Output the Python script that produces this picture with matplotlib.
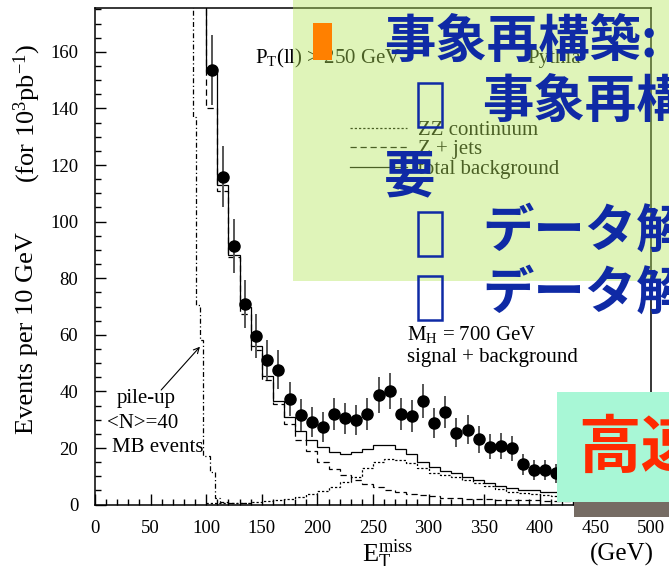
import numpy as np
import matplotlib
matplotlib.use("Agg")
import matplotlib.pyplot as plt
from matplotlib.patches import Rectangle

plt.rcParams['font.family'] = ['Liberation Serif', 'DejaVu Serif']
plt.rcParams['mathtext.fontset'] = 'custom'
plt.rcParams['mathtext.rm'] = 'Liberation Serif'
plt.rcParams['mathtext.it'] = 'Liberation Serif:italic'
plt.rcParams['mathtext.bf'] = 'Liberation Serif:bold'

# ---- E_T^miss spectra (events per 10 GeV bin, 10^3 pb^-1) ----
bkg_edges = np.arange(90, 440, 10)
total_bkg = [260, 153, 113, 88.3, 70, 56, 45.4, 36.5, 31, 26,
             23, 20.2, 18.5, 17.9, 18.5, 19.6, 21.0, 21.0, 19.6, 17.8,
             15.2, 13.4, 12.0, 11.1, 9.9, 8.7, 7.8, 6.6, 5.8, 5.2,
             5.0, 4.6, 4.3, 4.0]
z_jets = [250, 140, 110.8, 87.6, 67.5, 54.8, 43.9, 35.4, 28.6, 23.0,
          19.1, 15.2, 12.5, 10.5, 8.7, 7.3, 6.3, 5.2, 4.6, 3.9,
          3.3, 3.0, 2.5, 2.3, 2.1, 2.0, 1.9, 1.8, 1.7, 1.6,
          1.5, 1.4, 1.3, 1.2]
zz_edges = np.arange(100, 440, 10)
zz_continuum = [0.5, 0.5, 0.6, 0.7, 0.9, 1.2, 1.5, 2.0, 2.6, 3.6,
                4.9, 6.3, 8.1, 9.9, 12.8, 15.2, 16.0, 15.8, 14.6, 12.8,
                11.1, 10.5, 9.9, 8.7, 7.5, 6.6, 5.4, 4.6, 4.0, 3.8,
                3.4, 3.1, 2.8]
pileup_edges = [0, 88, 91, 94.5, 97.3, 103.6, 108, 112, 120, 140]
pileup = [5000, 137, 70.5, 58, 17, 11.6, 2.2, 1.0, 0.4]

# signal + background pseudo-data, M_H = 700 GeV
data_x = np.arange(105, 420, 10)
data_y = [153.6, 115.8, 91.3, 70.8, 59.6, 51.1, 47.6, 37.3, 31.6, 29.2,
          27.4, 32.0, 30.5, 29.9, 31.9, 38.7, 40.2, 31.9, 31.3, 36.7,
          28.9, 32.8, 25.4, 26.4, 23.1, 20.5, 20.8, 19.9, 14.2, 12.2,
          12.2, 11.1]

W, H = 669, 566
fig = plt.figure(figsize=(W / 100, H / 100), dpi=100)
fig.patch.set_facecolor('white')


def fx(px):
    return px / W


def fy(py):
    return 1 - py / H


ax = fig.add_axes([fx(95), fy(504.6), (651 - 95) / W, (504.6 - 8) / H])
ax.set_xlim(0, 500)
ax.set_ylim(0, 175.5)

lw = 0.9
h_zz = ax.stairs(zz_continuum, zz_edges, baseline=None, color='black',
                 linewidth=lw, linestyle=(0, (1.8, 1.6)))
h_zj = ax.stairs(z_jets, bkg_edges, baseline=None, color='black',
                 linewidth=lw, linestyle=(0, (5, 3)))
h_tot = ax.stairs(total_bkg, bkg_edges, baseline=None, color='black',
                  linewidth=lw)
ax.stairs(pileup, pileup_edges, baseline=None, color='black',
          linewidth=lw, linestyle=(0, (4, 2, 1, 2)))

ax.errorbar(data_x, data_y, yerr=np.sqrt(data_y), fmt='none',
            ecolor='#555555', elinewidth=1.4, zorder=3)
ax.plot(data_x, data_y, 'o', color='black', markersize=8, zorder=4)

ax.set_xticks(np.arange(0, 501, 50))
ax.set_xticks(np.arange(0, 501, 10), minor=True)
ax.set_yticks(np.arange(0, 161, 20))
ax.set_yticks(np.arange(0, 176, 5), minor=True)
ax.tick_params(which='both', direction='in', width=1.0, labelsize=13.5)
ax.tick_params(which='major', length=8)
ax.tick_params(which='minor', length=4.3)
ax.tick_params(axis='y', pad=12)
ax.tick_params(axis='x', pad=11)
for sp in ax.spines.values():
    sp.set_linewidth(1.1)

ax.legend([h_zz, h_zj, h_tot], ['ZZ continuum', 'Z + jets', 'total background'],
          loc='upper left', bbox_to_anchor=(0.4586, 0.774), frameon=False,
          fontsize=15, handlelength=2.74, handletextpad=0.53,
          labelspacing=0.0, borderpad=0, borderaxespad=0)

ax.text(143.9, 156, r'P$_\mathrm{T}$(ll) > 250 GeV', fontsize=15, va='baseline')
ax.text(388.5, 156, 'Pythia', fontsize=15, va='baseline')
ax.text(280.6, 58.2, r'M$_\mathrm{H}$ = 700 GeV', fontsize=15, va='baseline')
ax.text(280.6, 50.5, 'signal + background', fontsize=15, va='baseline')
ax.text(19.8, 35.8, 'pile-up', fontsize=15, va='baseline')
ax.text(10.8, 27.0, '<N>=40', fontsize=15, va='baseline')
ax.text(15.3, 18.7, 'MB events', fontsize=15, va='baseline')
ax.annotate('', xy=(94.4, 55.8), xytext=(59.5, 40.5),
            arrowprops=dict(arrowstyle='->', lw=0.8, color='black',
                            shrinkA=0, shrinkB=0))

fig.text(fx(27), fy(333), 'Events per 10 GeV', rotation=90,
         ha='center', va='center', fontsize=19)
fig.text(fx(27), fy(113), r'(for 10$^{3}$pb$^{-1}$)', rotation=90,
         ha='center', va='center', fontsize=19)
fig.text(fx(362), fy(562), r'$\mathrm{E}_\mathrm{T}^\mathrm{miss}$',
         fontsize=19, va='baseline')
fig.text(fx(590), fy(561), '(GeV)', fontsize=18, va='baseline')

# translucent lime panel over the upper right
fig.add_artist(Rectangle((fx(293), fy(281)), (W - 293) / W, 281 / H,
                         transform=fig.transFigure, facecolor='#b4e65a',
                         alpha=0.42, edgecolor='none', zorder=5))

fig.add_artist(Rectangle((fx(313), fy(60)), 19 / W, 37 / H,
                         transform=fig.transFigure, facecolor='#ff8000',
                         edgecolor='none', zorder=10))

blue = '#0f2aa5'
jp = ['Noto Sans CJK JP', 'DejaVu Sans']
fig.text(fx(384), fy(41.5), '事象再構築:', color=blue, fontsize=37,
         fontweight='bold', family=jp, va='center', zorder=10)
fig.text(fx(482), fy(101.5), '事象再構築', color=blue, fontsize=37,
         fontweight='bold', family=jp, va='center', zorder=10)
fig.text(fx(384), fy(177), '要', color=blue, fontsize=37,
         fontweight='bold', family=jp, va='center', zorder=10)
fig.text(fx(482), fy(231), 'データ解析', color=blue, fontsize=37,
         fontweight='bold', family=jp, va='center', zorder=10)
fig.text(fx(482), fy(293), 'データ解析', color=blue, fontsize=37,
         fontweight='bold', family=jp, va='center', zorder=10)
for top in (83, 212, 276):
    fig.add_artist(Rectangle((fx(418), fy(top + 44)), 24 / W, 44 / H,
                             transform=fig.transFigure, facecolor='none',
                             edgecolor=blue, linewidth=1.8, zorder=10))

# callout box with drop shadow
fig.add_artist(Rectangle((fx(574), fy(517)), (W - 574) / W, 15 / H,
                         transform=fig.transFigure, facecolor='#766c64',
                         edgecolor='none', zorder=9))
fig.add_artist(Rectangle((fx(557), fy(502)), (W - 557) / W, 110 / H,
                         transform=fig.transFigure, facecolor='#a8f7d6',
                         edgecolor='none', zorder=10))
fig.text(fx(578), fy(448), '高速化', color='#ff2a00', fontsize=45,
         fontweight='bold', family=jp, va='center', zorder=11)

fig.savefig('out.png', dpi=100)
